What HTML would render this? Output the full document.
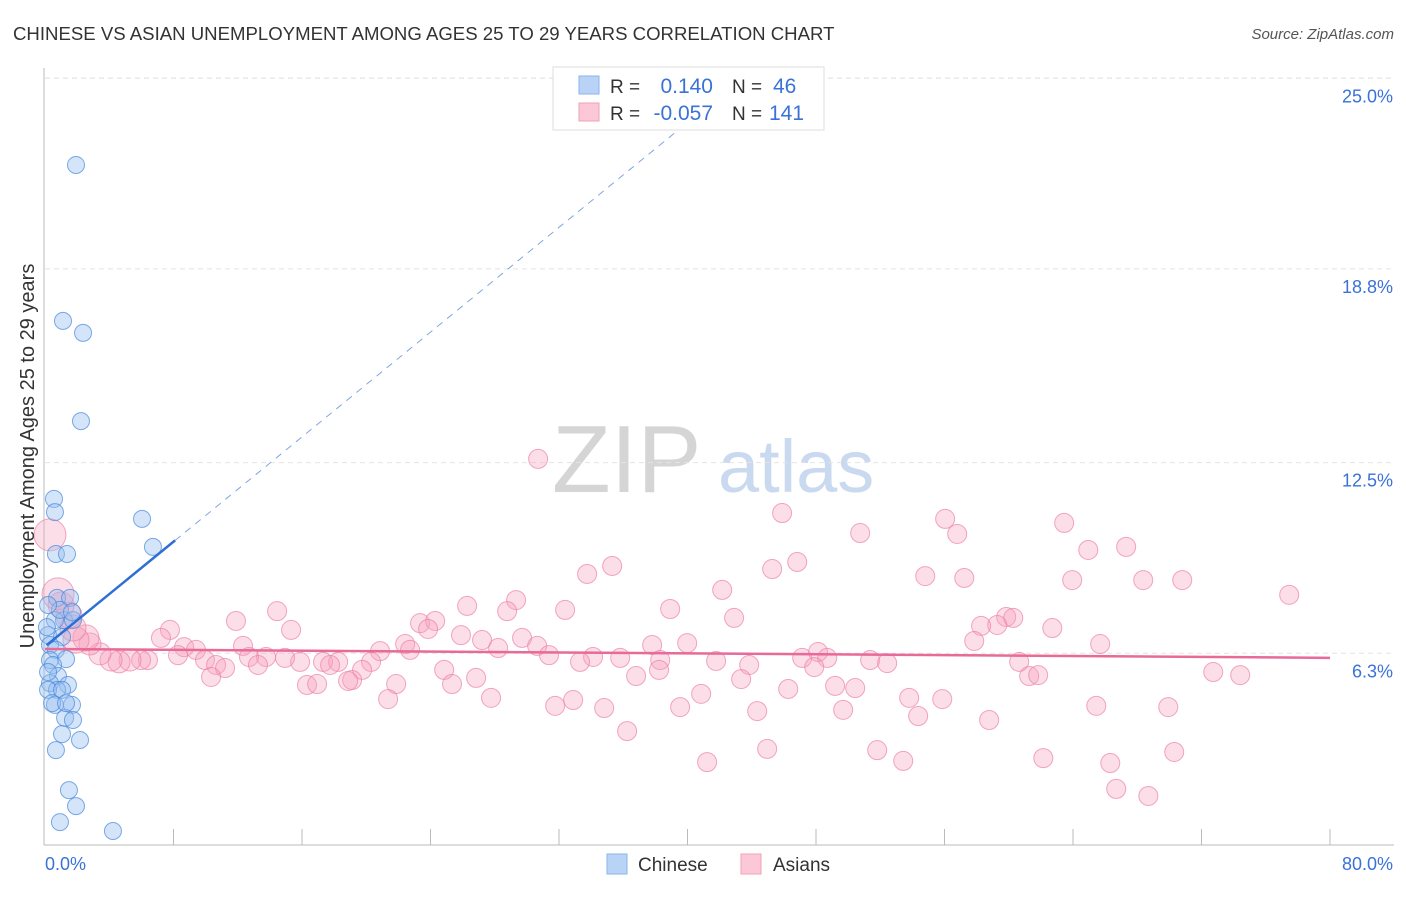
<!DOCTYPE html>
<html><head><meta charset="utf-8">
<style>
body{margin:0;background:#fff;font-family:"Liberation Sans",sans-serif;}
svg text{font-family:"Liberation Sans",sans-serif;}
</style></head>
<body>
<svg id="chart" width="1406" height="892" viewBox="0 0 1406 892" xmlns="http://www.w3.org/2000/svg">
<text x="13" y="40" font-size="18.6" fill="#333">CHINESE VS ASIAN UNEMPLOYMENT AMONG AGES 25 TO 29 YEARS CORRELATION CHART</text>
<text x="1394" y="39" font-size="15" fill="#555" text-anchor="end" font-style="italic">Source: ZipAtlas.com</text>
<g>
<text x="552" y="492" font-size="96" fill="#d5d5d5" font-family="Liberation Serif, serif">ZIP</text>
<text x="718" y="492" font-size="74" fill="#c9d9ef">atlas</text>
</g>
<g id="grid"></g>
<g id="axes"></g>
<g id="pts-pink"></g>
<g id="pts-blue"></g>
<g id="trends"></g>
<text transform="translate(34,456) rotate(-90)" font-size="20" fill="#333" text-anchor="middle">Unemployment Among Ages 25 to 29 years</text>
<g>
<rect x="553" y="67" width="271" height="63" fill="#fff" stroke="#ddd"/>
<rect x="579" y="76" width="20" height="18" fill="#b8d3f5" stroke="#8ab4ea"/>
<rect x="579" y="103" width="20" height="18" fill="#fcc8d8" stroke="#f0a0b8"/>
<text x="610" y="93" font-size="19" fill="#333">R =</text>
<text x="713" y="93" font-size="21" fill="#3a72d8" text-anchor="end">0.140</text>
<text x="732" y="93" font-size="19" fill="#333">N =</text>
<text x="773" y="93" font-size="21" fill="#3a72d8">46</text>
<text x="610" y="120" font-size="19" fill="#333">R =</text>
<text x="713" y="120" font-size="21" fill="#3a72d8" text-anchor="end">-0.057</text>
<text x="732" y="120" font-size="19" fill="#333">N =</text>
<text x="769" y="120" font-size="21" fill="#3a72d8">141</text>
</g>
<g>
<rect x="607" y="854" width="20" height="20" fill="#b8d3f5" stroke="#8ab4ea"/>
<text x="638" y="871" font-size="19" fill="#333">Chinese</text>
<rect x="741" y="854" width="20" height="20" fill="#fcc8d8" stroke="#f0a0b8"/>
<text x="773" y="871" font-size="19" fill="#333">Asians</text>
</g>
</svg>
<script>
const xTickLabels=["0.0%","80.0%"];
const yTicks=[6.3,12.5,18.8,25.0];
const yTickLabels=["6.3%","12.5%","18.8%","25.0%"];
const chineseX=[1.93,1.12,2.37,2.24,0.56,0.62,6.04,6.72,0.68,1.37,0.75,1.56,1.18,0.62,1.74,0.19,1.06,0.31,0.68,0.31,1.31,0.50,0.81,0.31,1.43,0.75,0.19,1.06,0.62,1.68,1.25,1.74,1.06,2.18,0.68,1.49,1.93,0.93,4.23,0.12,0.93,1.68,0.19,0.44,1.31,0.19];
const chineseY=[22.18,17.11,16.72,13.85,11.32,10.89,10.67,9.76,9.53,9.53,8.10,8.10,7.38,7.38,7.38,6.89,6.83,6.57,6.41,6.08,6.11,5.92,5.56,5.33,5.27,5.11,5.11,5.11,4.62,4.62,4.20,4.13,3.67,3.48,3.15,1.85,1.33,0.81,0.52,7.15,7.71,7.64,7.87,4.68,4.68,5.69];
const asiansX=[30.70,45.89,56.04,63.45,50.75,56.79,67.31,64.95,46.83,45.27,35.31,33.75,54.80,57.23,63.95,68.37,70.80,42.16,77.46,29.33,26.28,28.77,32.38,38.92,42.90,23.35,24.29,23.85,59.84,60.28,59.28,62.71,58.28,11.89,14.45,15.32,7.78,7.22,25.90,29.70,27.21,28.21,30.64,37.80,39.98,57.85,65.69,22.42,22.73,20.86,12.33,8.66,9.40,31.38,34.12,35.81,41.78,43.84,47.14,48.13,48.70,51.37,52.43,60.65,33.31,38.30,15.88,17.31,18.25,20.30,14.94,13.76,12.70,9.96,8.28,6.41,5.98,5.29,4.61,4.11,3.42,2.80,2.55,1.93,1.74,1.49,1.00,0.81,0.31,10.65,11.21,13.26,17.75,19.74,19.12,24.85,26.84,36.80,38.23,43.34,47.89,49.19,50.44,61.27,61.83,72.73,74.41,10.34,16.31,16.94,18.87,21.86,25.34,21.36,27.77,32.88,31.76,34.81,40.85,46.27,53.80,55.86,65.45,69.93,39.54,44.34,49.69,54.36,58.78,36.24,44.96,51.81,70.30,41.22,53.43,62.15,66.32,66.69,68.69];
const asiansY=[12.62,10.86,10.67,10.54,10.21,10.18,9.76,9.66,9.27,9.04,9.14,8.88,8.81,8.75,8.68,8.68,8.68,8.36,8.20,8.03,7.84,7.67,7.71,7.74,7.45,7.28,7.35,7.09,7.48,7.45,7.22,7.12,7.19,7.35,7.67,7.06,7.06,6.80,6.89,6.80,6.73,6.47,6.54,6.57,6.63,6.70,6.60,6.60,6.41,6.37,6.54,6.50,6.41,6.24,6.18,6.15,6.05,5.92,6.15,6.34,6.15,6.08,5.98,6.02,6.02,6.08,6.02,6.02,6.02,6.02,6.15,6.18,6.18,6.08,6.24,6.08,6.08,6.08,6.02,6.08,6.28,6.60,6.80,6.73,7.12,7.54,7.87,8.23,10.15,5.92,5.82,5.92,5.92,5.76,5.43,5.76,5.50,5.56,5.76,5.46,5.85,5.24,5.17,5.56,5.59,5.69,5.59,5.53,5.27,5.30,5.40,5.30,5.30,4.81,4.85,4.78,4.59,4.52,4.98,5.14,4.85,4.81,4.59,4.55,4.55,4.42,4.46,4.26,4.13,3.77,3.19,3.15,3.09,2.76,2.80,2.89,2.73,1.89,1.66];
const asiansBig=[0,0,0,0,0,0,0,0,0,0,0,0,0,0,0,0,0,0,0,0,0,0,0,0,0,0,0,0,0,0,0,0,0,0,0,0,0,0,0,0,0,0,0,0,0,0,0,0,0,0,0,0,0,0,0,0,0,0,0,0,0,0,0,0,0,0,0,0,0,0,0,0,0,0,0,0,0,1,1,1,1,1,2,2,2,2,2,3,3];
const chineseTrend=[6.52,0.426];
const asiansTrend=[6.44,-0.0036];
const NS="http://www.w3.org/2000/svg";
const X0=45,X1=1330,Y0=847,YPX=30.75;
function sx(v){return X0+(X1-X0)*v/80;}
function sy(v){return Y0-v*YPX;}
function mk(tag,attrs,parent){const e=document.createElementNS(NS,tag);for(const k in attrs)e.setAttribute(k,attrs[k]);parent.appendChild(e);return e;}
const grid=document.getElementById('grid'),axes=document.getElementById('axes');
const topLine=mk('line',{x1:45,x2:1394,y1:78,y2:78,stroke:'#e4e4e4','stroke-dasharray':'5,4'},grid);


yTicks.forEach((t,i)=>{
 const l=mk('line',{x1:45,x2:1394,y1:sy(t),y2:sy(t),stroke:'#e4e4e4','stroke-dasharray':'5,4'},grid);
 
 
 const tx=mk('text',{x:1393,y:sy(t)+24,'font-size':18,fill:'#3a72d8','text-anchor':'end'},axes);
 tx.textContent=yTickLabels[i];
 
 
});
const ax=mk('line',{x1:44,x2:44,y1:68,y2:845,stroke:'#bbb'},axes);


const bx=mk('line',{x1:44,x2:1394,y1:845,y2:845,stroke:'#bbb'},axes);


for(let i=1;i<=10;i++){
 const t=mk('line',{x1:sx(i*8),x2:sx(i*8),y1:829,y2:845,stroke:'#bbb'},axes);
 
 
}
const xl0=mk('text',{x:45,y:870,'font-size':18,fill:'#3a72d8'},axes);
xl0.textContent=xTickLabels[0];


const xl1=mk('text',{x:1393,y:870,'font-size':18,fill:'#3a72d8','text-anchor':'end'},axes);
xl1.textContent=xTickLabels[1];


const pp=document.getElementById('pts-pink');
asiansX.forEach((v,i)=>{
 const big=asiansBig[i]||0;
 const r=[9.5,11,13,16][big];
 const c=mk('circle',{cx:sx(v),cy:sy(asiansY[i]),r:r,fill:'rgba(246,160,190,0.35)',stroke:'rgba(236,130,165,0.7)','stroke-width':1},pp);
 
 
});
const pb=document.getElementById('pts-blue');
chineseX.forEach((v,i)=>{
 const c=mk('circle',{cx:sx(v),cy:sy(chineseY[i]),r:8.5,fill:'rgba(150,190,240,0.4)',stroke:'rgba(70,135,220,0.7)','stroke-width':1},pb);
 
 
});
const tr=document.getElementById('trends');
const f=(p,x)=>p[0]+p[1]*x;
const bd=mk('line',{x1:sx(8.1),y1:sy(f(chineseTrend,8.1)),x2:sx(40.2),y2:sy(f(chineseTrend,40.2)),stroke:'#7fa6e0','stroke-width':1,'stroke-dasharray':'7,6'},tr);


const bs=mk('line',{x1:sx(0.1),y1:sy(f(chineseTrend,0.1)),x2:sx(8.1),y2:sy(f(chineseTrend,8.1)),stroke:'#2e6fd6','stroke-width':2.5},tr);


const ps=mk('line',{x1:sx(0),y1:sy(f(asiansTrend,0)),x2:sx(80),y2:sy(f(asiansTrend,80)),stroke:'#e86a98','stroke-width':2.5},tr);


</script>
</body></html>
